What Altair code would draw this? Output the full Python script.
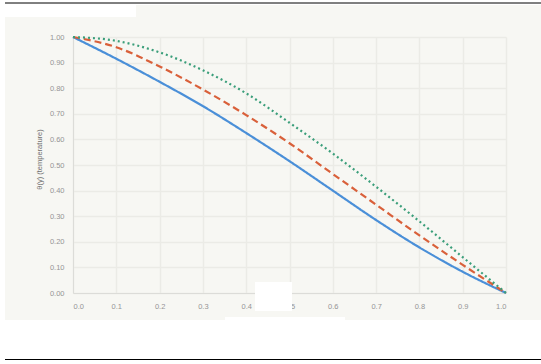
import altair as alt
import pandas as pd

# Values
y_pos = [0.0, 0.1, 0.2, 0.3, 0.4, 0.5, 0.6, 0.7, 0.8, 0.9, 1.0]
theta_solid = [1.0, 0.915, 0.825, 0.73, 0.625, 0.515, 0.40, 0.285, 0.178, 0.083, 0.0]
theta_dashed = [1.0, 0.96, 0.885, 0.795, 0.695, 0.585, 0.465, 0.345, 0.225, 0.11, 0.0]
theta_dotted = [1.0, 0.985, 0.94, 0.87, 0.78, 0.665, 0.545, 0.415, 0.28, 0.14, 0.0]
series_names = ["solid", "dashed", "dotted"]
series_colors = ["#4a8fd8", "#d9603a", "#3a9e7a"]
x_ticks = [0.0, 0.1, 0.2, 0.3, 0.4, 0.5, 0.6, 0.7, 0.8, 0.9, 1.0]
y_ticks = [0.0, 0.1, 0.2, 0.3, 0.4, 0.5, 0.6, 0.7, 0.8, 0.9, 1.0]

rows = []
for name, vals in zip(series_names, [theta_solid, theta_dashed, theta_dotted]):
    for x, v in zip(y_pos, vals):
        rows.append({"y": x, "theta": v, "series": name})
df = pd.DataFrame(rows)
one = pd.DataFrame({"a": [0]})

FONT = "Liberation Sans"

lines = alt.Chart(df).mark_line(strokeWidth=2.2, interpolate="monotone").encode(
    x=alt.X("y:Q", scale=alt.Scale(domain=[0, 1], nice=False),
            axis=alt.Axis(values=x_ticks, format=".1f", title=None, grid=True,
                          labelFontSize=7.5, labelColor="#959595", labelFont=FONT,
                          ticks=False, labelPadding=9, domainColor="#dcdcd8",
                          gridColor="#ebebe6", gridWidth=1.5)),
    y=alt.Y("theta:Q", scale=alt.Scale(domain=[0, 1], nice=False),
            axis=alt.Axis(values=y_ticks, format=".2f", title="θ(y)  (temperature)",
                          grid=True, labelFontSize=7.5, labelColor="#959595", labelFont=FONT,
                          ticks=False, labelPadding=9, domainColor="#dcdcd8",
                          gridColor="#ebebe6", gridWidth=1.5,
                          titleFontSize=7.5, titleFont=FONT, titleColor="#6f6f6f",
                          titleFontWeight="normal", titleX=-30, titleY=122)),
    color=alt.Color("series:N", scale=alt.Scale(domain=series_names, range=series_colors), legend=None),
    strokeDash=alt.StrokeDash("series:N", scale=alt.Scale(domain=series_names,
                              range=[[1, 0], [7, 4], [2, 3]]), legend=None),
)

def white_rect(x1, x2, y1, y2):
    # page pixel coords converted relative to plot origin (73, 37)
    return alt.Chart(one).mark_rect(color="white").encode(
        x=alt.value(x1 - 73), x2=alt.value(x2 - 73),
        y=alt.value(y1 - 37), y2=alt.value(y2 - 37))

def black_rule(y):
    return alt.Chart(one).mark_rule(color="black", strokeWidth=1).encode(
        x=alt.value(5 - 73), x2=alt.value(541 - 73), y=alt.value(y - 37))

layers = [
    lines,
    white_rect(0, 541, 0, 5),
    white_rect(0, 541, 320, 364),
    white_rect(0, 5, 0, 364),
    white_rect(0, 136, 0, 17),
    white_rect(255, 292, 282, 311),
    white_rect(225, 345, 317, 320),
    black_rule(3),
    black_rule(359.5),
]

chart = alt.layer(*layers).properties(
    width=433, height=256,
    background="#f7f7f3",
    padding={"left": 73, "top": 37, "right": 35, "bottom": 71},
    autosize=alt.AutoSizeParams(type="none"),
).configure_view(stroke=None)

chart.save("out.html", embed_options={"renderer": "svg", "actions": False})
